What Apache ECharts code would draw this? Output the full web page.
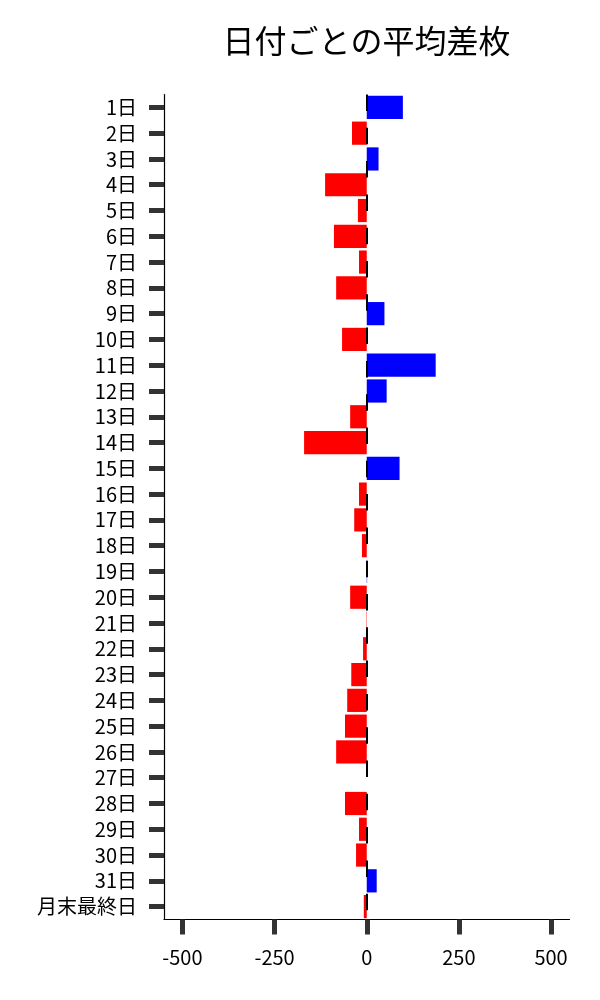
<!DOCTYPE html>
<html>
<head>
<meta charset="utf-8">
<script src="https://cdn.jsdelivr.net/npm/echarts@6/dist/echarts.min.js"></script>
<style>
html,body{margin:0;padding:0;background:#fff;}
#chart{width:600px;height:1000px;}
</style>
</head>
<body>
<div id="chart"></div>
<script>
const titleText = '日付ごとの平均差枚';
const categories = ['1日','2日','3日','4日','5日','6日','7日','8日','9日','10日','11日','12日','13日','14日','15日','16日','17日','18日','19日','20日','21日','22日','23日','24日','25日','26日','27日','28日','29日','30日','31日','月末最終日'];
const values = [98,-40,32,-113,-24,-89,-21,-83,48,-67,187,54,-45,-170,89,-21,-34,-13,1,-45,-1,-10,-42,-53,-59,-83,0,-59,-21,-29,27,-8];
const xTicks = [-500,-250,0,250,500];

const FONT = '"Noto Sans CJK JP", "Noto Sans", sans-serif';
const chart = echarts.init(document.getElementById('chart'), null, {renderer:'canvas'});
chart.setOption({
  animation: false,
  backgroundColor: '#fff',
  title: {
    text: titleText,
    left: 361.5,
    top: 20,
    textAlign: 'center',
    textStyle: {fontFamily: FONT, fontSize: 32, fontWeight: 'normal', color: '#000'}
  },
  grid: {left: 164, right: 30.5, top: 94.5, bottom: 80.5, containLabel: false},
  xAxis: {
    type: 'value',
    min: -550,
    max: 550,
    axisLine: {show: true, onZero: false, lineStyle: {color: '#000', width: 1.2}},
    axisTick: {show: true, customValues: xTicks, length: 15, lineStyle: {color: '#333', width: 5}},
    axisLabel: {show: true, customValues: xTicks, margin: 28, fontFamily: FONT, fontSize: 20, color: '#000'},
    splitLine: {show: false}
  },
  yAxis: {
    type: 'category',
    data: categories,
    inverse: true,
    axisLine: {show: true, onZero: false, lineStyle: {color: '#000', width: 1.2}},
    axisTick: {show: true, alignWithLabel: true, length: 15, lineStyle: {color: '#333', width: 5}},
    axisLabel: {margin: 27, fontFamily: FONT, fontSize: 20, color: '#000', interval: 0},
    splitLine: {show: false}
  },
  series: [{
    type: 'bar',
    data: values,
    barCategoryGap: '10%',
    itemStyle: {
      color: function (p) { return p.value >= 0 ? '#0000ff' : '#ff0000'; }
    },
    markLine: {
      silent: true,
      symbol: ['none', 'none'],
      label: {show: false},
      lineStyle: {color: '#000', width: 2, type: [16.5, 16.8], dashOffset: 0},
      data: [{xAxis: 0}]
    }
  }]
});
</script>
</body>
</html>
